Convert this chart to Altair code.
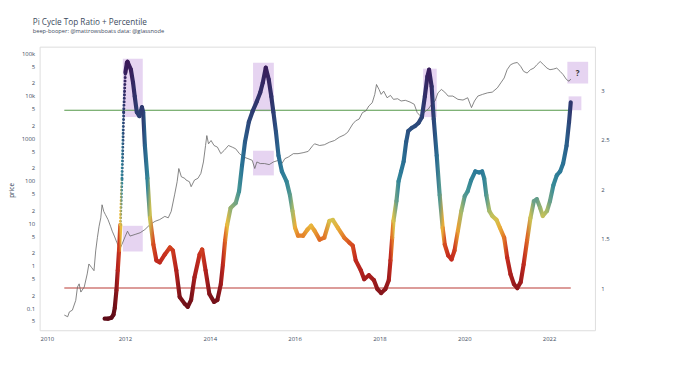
import altair as alt
import pandas as pd

# ---------------- data ----------------
ratio_year = [2011.52, 2011.60, 2011.68, 2011.73, 2011.76, 2011.80, 2011.83, 2011.86, 2011.89, 2011.93,
              2011.97, 2012.01, 2012.045, 2012.06, 2012.14, 2012.19, 2012.23, 2012.28, 2012.34, 2012.40,
              2012.43, 2012.47, 2012.53, 2012.59, 2012.67, 2012.74, 2012.82, 2012.94, 2013.06, 2013.13,
              2013.21, 2013.29, 2013.41, 2013.48, 2013.56, 2013.64, 2013.76, 2013.82, 2013.90, 2013.99,
              2014.10, 2014.18, 2014.26, 2014.31, 2014.36, 2014.41, 2014.49, 2014.61, 2014.69, 2014.76,
              2014.83, 2014.92, 2015.01, 2015.11, 2015.19, 2015.25, 2015.32, 2015.39, 2015.45, 2015.50,
              2015.56, 2015.62, 2015.70, 2015.81, 2015.89, 2015.95, 2016.01, 2016.08, 2016.20, 2016.30,
              2016.39, 2016.47, 2016.59, 2016.70, 2016.82, 2016.90, 2017.02, 2017.17, 2017.29, 2017.37,
              2017.44, 2017.56, 2017.64, 2017.75, 2017.87, 2017.95, 2018.04, 2018.14, 2018.22, 2018.26,
              2018.30, 2018.33, 2018.40, 2018.45, 2018.51, 2018.57, 2018.63, 2018.68, 2018.76, 2018.84,
              2018.92, 2019.00, 2019.07, 2019.13, 2019.17, 2019.23, 2019.28, 2019.35, 2019.42, 2019.49,
              2019.54, 2019.62, 2019.70, 2019.77, 2019.85, 2019.93, 2020.01, 2020.08, 2020.16, 2020.26,
              2020.35, 2020.42, 2020.47, 2020.52, 2020.59, 2020.66, 2020.76, 2020.84, 2020.94, 2021.01,
              2021.09, 2021.17, 2021.25, 2021.33, 2021.40, 2021.48, 2021.56, 2021.64, 2021.71, 2021.79,
              2021.85, 2021.95, 2022.02, 2022.10, 2022.18, 2022.26, 2022.33, 2022.41, 2022.47, 2022.51]
ratio_value = [0.69, 0.69, 0.70, 0.73, 0.80, 0.98, 1.18, 1.38, 1.64, 2.11,
               2.78, 3.18, 3.28, 3.29, 3.21, 3.08, 2.94, 2.78, 2.74, 2.83,
               2.78, 2.44, 2.11, 1.71, 1.44, 1.28, 1.26, 1.34, 1.41, 1.38,
               1.18, 0.91, 0.84, 0.81, 0.88, 1.11, 1.34, 1.39, 1.18, 0.94,
               0.86, 0.88, 1.04, 1.24, 1.48, 1.64, 1.81, 1.86, 1.98, 2.24,
               2.48, 2.68, 2.79, 2.89, 2.98, 3.08, 3.23, 3.11, 2.94, 2.78,
               2.58, 2.34, 2.18, 2.08, 1.94, 1.78, 1.61, 1.53, 1.53, 1.59,
               1.63, 1.58, 1.49, 1.51, 1.68, 1.69, 1.61, 1.51, 1.46, 1.43,
               1.28, 1.18, 1.09, 1.13, 1.08, 0.99, 0.95, 0.99, 1.08, 1.28,
               1.51, 1.68, 1.88, 2.08, 2.18, 2.28, 2.48, 2.59, 2.62, 2.64,
               2.67, 2.73, 2.94, 3.14, 3.21, 3.04, 2.71, 2.34, 1.94, 1.61,
               1.44, 1.33, 1.29, 1.38, 1.58, 1.78, 1.93, 1.98, 2.09, 2.18,
               2.17, 2.18, 2.11, 1.94, 1.78, 1.73, 1.69, 1.61, 1.51, 1.31,
               1.14, 1.04, 1.00, 1.06, 1.24, 1.48, 1.71, 1.88, 1.90, 1.81,
               1.73, 1.78, 1.88, 2.04, 2.14, 2.18, 2.26, 2.44, 2.68, 2.88]

price_year = [2010.57, 2010.65, 2010.69, 2010.76, 2010.84, 2010.88, 2010.92, 2010.96, 2011.04, 2011.11,
              2011.15, 2011.21, 2011.27, 2011.31, 2011.35, 2011.39, 2011.43, 2011.46, 2011.50, 2011.54,
              2011.60, 2011.66, 2011.70, 2011.75, 2011.81, 2011.88, 2011.93, 2012.01, 2012.06, 2012.12,
              2012.24, 2012.36, 2012.47, 2012.59, 2012.71, 2012.82, 2012.94, 2013.02, 2013.09, 2013.17,
              2013.23, 2013.27, 2013.33, 2013.41, 2013.44, 2013.52, 2013.56, 2013.64, 2013.72, 2013.79,
              2013.85, 2013.90, 2013.93, 2013.97, 2014.03, 2014.10, 2014.18, 2014.26, 2014.34, 2014.44,
              2014.53, 2014.61, 2014.70, 2014.80, 2014.90, 2015.00, 2015.06, 2015.11, 2015.19, 2015.29,
              2015.40, 2015.50, 2015.62, 2015.70, 2015.77, 2015.85, 2015.97, 2016.08, 2016.20, 2016.32,
              2016.43, 2016.47, 2016.59, 2016.70, 2016.82, 2016.94, 2017.05, 2017.17, 2017.25, 2017.37,
              2017.44, 2017.52, 2017.60, 2017.68, 2017.75, 2017.83, 2017.89, 2017.93, 2017.99, 2018.04,
              2018.10, 2018.18, 2018.26, 2018.33, 2018.43, 2018.51, 2018.61, 2018.72, 2018.82, 2018.89,
              2018.96, 2019.05, 2019.15, 2019.23, 2019.31, 2019.38, 2019.46, 2019.54, 2019.62, 2019.73,
              2019.85, 2019.97, 2020.08, 2020.17, 2020.24, 2020.32, 2020.43, 2020.55, 2020.66, 2020.78,
              2020.86, 2020.94, 2021.01, 2021.09, 2021.17, 2021.25, 2021.33, 2021.40, 2021.48, 2021.56,
              2021.64, 2021.71, 2021.79, 2021.87, 2021.95, 2022.02, 2022.10, 2022.18, 2022.26, 2022.33,
              2022.41, 2022.47, 2022.51]
price_usd = [0.069, 0.063, 0.082, 0.090, 0.153, 0.315, 0.375, 0.240, 0.315, 0.641,
             1.10, 0.918, 0.765, 2.23, 4.57, 8.5, 13.4, 27.2, 19.0, 15.9,
             12.2, 8.5, 6.5, 4.99, 3.50, 2.44, 3.20, 4.99, 6.5, 4.99,
             5.46, 5.98, 7.1, 9.3, 11.1, 12.2, 14.5, 13.4, 19.0, 46.5,
             94.8, 194, 124, 114, 104, 94.8, 72.5, 104, 114, 149,
             277, 676, 1156, 741, 885, 676, 618, 434, 518, 676,
             618, 566, 434, 361, 332, 303, 194, 277, 254, 254,
             240, 277, 303, 254, 332, 361, 434, 434, 457, 491,
             676, 741, 676, 703, 807, 885, 1055, 1199, 1380, 2163,
             2580, 2827, 4027, 4406, 5754, 6871, 10785, 18410, 14090, 10785,
             12850, 8980, 10210, 8240, 8510, 7530, 7820, 7130, 6310, 4027,
             3370, 4027, 4830, 6310, 7530, 11740, 14090, 12190, 9840, 9840,
             8240, 7940, 8980, 5260, 7530, 9840, 10785, 11740, 12190, 15350,
             20040, 26230, 41110, 53700, 58500, 60800, 49100, 37500, 34300, 41110,
             44800, 53700, 64100, 53700, 44800, 41110, 42460, 44800, 37500, 31480,
             24050, 21980, 24830]

level_values = [1.0, 2.8]

box_start = [2011.95, 2011.95, 2015.02, 2015.02, 2019.03, 2022.43, 2022.46]
box_end = [2012.42, 2012.42, 2015.51, 2015.51, 2019.35, 2022.92, 2022.76]
box_low = [2.73, 1.37, 2.79, 2.14, 2.73, 3.07, 2.80]
box_high = [3.32, 1.63, 3.28, 2.39, 3.22, 3.29, 2.94]

question_year = [2022.67]
question_ratio = [3.17]
question_text = ["?"]

year_ticks = [2010, 2012, 2014, 2016, 2018, 2020, 2022]
ratio_ticks = [1, 1.5, 2, 2.5, 3]
price_ticks = [0.05, 0.1, 0.2, 0.5, 1, 2, 5, 10, 20, 50, 100, 200, 500, 1000, 2000, 5000,
               10000, 20000, 50000, 100000]
price_tick_labels = ["5", "0.1", "2", "5", "1", "2", "5", "10", "2", "5", "100", "2", "5", "1000", "2", "5",
                     "10k", "2", "5", "100k"]

# ---------------- styling ----------------
FONT = "Open Sans"
TXT = "#3d4b5e"
level_colors = ["#b93a34", "#559848"]
color_stops = [0.7, 0.9, 1.05, 1.2, 1.35, 1.45, 1.55, 1.65, 1.75, 1.88, 2.0, 2.2, 2.5, 2.8, 3.3]
color_range = ["#5e0b17", "#7a1219", "#9a1a1c", "#b8241e", "#c8301e", "#d85020", "#e8902c", "#e8c040",
               "#b8c060", "#6aa088", "#3a9098", "#2a7898", "#2a5a88", "#2d3a70", "#3a1858"]


def hex_rgb(h):
    return [int(h[i:i + 2], 16) for i in (1, 3, 5)]


def color_at(v):
    if v <= color_stops[0]:
        return color_range[0]
    if v >= color_stops[-1]:
        return color_range[-1]
    for i in range(len(color_stops) - 1):
        a, b = color_stops[i], color_stops[i + 1]
        if a <= v <= b:
            f = (v - a) / (b - a)
            ca, cb = hex_rgb(color_range[i]), hex_rgb(color_range[i + 1])
            c = [round(ca[k] + (cb[k] - ca[k]) * f) for k in range(3)]
            return "#%02x%02x%02x" % tuple(c)
    return color_range[-1]


seg = pd.DataFrame({
    "t0": ratio_year[:-1], "t1": ratio_year[1:],
    "r0": ratio_value[:-1], "r1": ratio_value[1:],
})
seg["steep"] = (seg["r1"] - seg["r0"]) / (seg["t1"] - seg["t0"]) > 9.5
strokes = []
for r0, r1 in zip(seg["r0"], seg["r1"]):
    if abs(r1 - r0) < 1e-9:
        strokes.append(color_at(r0))
    else:
        up = r1 > r0
        strokes.append({"gradient": "linear", "x1": 0, "y1": 1 if up else 0, "x2": 1, "y2": 0 if up else 1,
                        "stops": [{"offset": 0, "color": color_at(r0)}, {"offset": 1, "color": color_at(r1)}]})
seg["stroke"] = strokes

price_df = pd.DataFrame({"year": price_year, "price": price_usd})
box_df = pd.DataFrame({"x0": box_start, "x1": box_end, "y0": box_low, "y1": box_high})
q_df = pd.DataFrame({"year": question_year, "ratio": question_ratio, "label": question_text})

x_scale = alt.Scale(domain=[2009.988, 2023.08], nice=False, zero=False)
x_axis = alt.Axis(values=year_ticks, format="d", title=None, grid=False, domain=False, ticks=False,
                  labelFontSize=6, labelColor=TXT, labelPadding=5, labelFont=FONT)
ratio_scale = alt.Scale(domain=[0.573, 3.443], nice=False, zero=False)
price_scale = alt.Scale(type="log", domain=[0.0303, 143200], nice=False)

label_expr = ""
for v, l in zip(price_ticks, price_tick_labels):
    label_expr += f"datum.value == {v} ? '{l}' : "
label_expr += "''"

price_axis = alt.Axis(orient="left", values=price_ticks, labelExpr=label_expr, title="price",
                      titleX=-28, titleY=145, titleAngle=-90, titleBaseline="middle", titleAlign="center",
                      titleFontSize=6.5, titleFontWeight="normal", titleColor=TXT, titleFont=FONT,
                      grid=False, domain=False, ticks=False, labelFontSize=6, labelColor=TXT,
                      labelPadding=5, labelFont=FONT)
ratio_axis = alt.Axis(orient="right", values=ratio_ticks, format="~g", title=None, grid=False,
                      domain=False, ticks=False, labelFontSize=6, labelColor=TXT, labelPadding=6,
                      labelFont=FONT)

stroke_enc = alt.Color("stroke:N", scale=None)

boxes = alt.Chart(box_df).mark_rect(color="#e2cdee", opacity=0.85).encode(
    x=alt.X("x0:Q", scale=x_scale, axis=x_axis), x2="x1:Q",
    y=alt.Y("y0:Q", scale=ratio_scale, axis=None), y2="y1:Q")

levels = []
for v, c in zip(level_values, level_colors):
    ldf = pd.DataFrame({"start": [min(price_year)], "end": [max(price_year)], "level": [v]})
    levels.append(alt.Chart(ldf).mark_rule(color=c, strokeWidth=1.1).encode(
        x=alt.X("start:Q", scale=x_scale, axis=x_axis), x2="end:Q",
        y=alt.Y("level:Q", scale=ratio_scale, axis=None)))

price = alt.Chart(price_df).mark_line(color="#666666", strokeWidth=0.8).encode(
    x=alt.X("year:Q", scale=x_scale, axis=x_axis),
    y=alt.Y("price:Q", scale=price_scale, axis=price_axis))

solid = alt.Chart(seg).transform_filter("!datum.steep").mark_rule(strokeWidth=4.2, strokeCap="round").encode(
    x=alt.X("t0:Q", scale=x_scale, axis=x_axis), x2="t1:Q",
    y=alt.Y("r0:Q", scale=ratio_scale, axis=ratio_axis), y2="r1:Q",
    color=stroke_enc)

dotted = alt.Chart(seg).transform_filter("datum.steep").mark_rule(
    strokeWidth=3.0, strokeCap="round", strokeDash=[0.1, 3.4]).encode(
    x=alt.X("t0:Q", scale=x_scale, axis=x_axis), x2="t1:Q",
    y=alt.Y("r0:Q", scale=ratio_scale, axis=None), y2="r1:Q",
    color=stroke_enc)

qmark = alt.Chart(q_df).mark_text(fontWeight="bold", fontSize=8, color="#333333", font=FONT).encode(
    x=alt.X("year:Q", scale=x_scale, axis=x_axis),
    y=alt.Y("ratio:Q", scale=ratio_scale, axis=None),
    text="label:N")

chart = alt.layer(boxes, *levels, price, solid, dotted, qmark).resolve_scale(
    y="independent"
).properties(
    width=562, height=287,
    padding={"left": 32, "top": 37, "right": 78, "bottom": 30},
    autosize=alt.AutoSizeParams(type="none"),
    title=alt.TitleParams(
        text="Pi Cycle Top Ratio + Percentile",
        subtitle="beep-booper: @mattrowsboats data: @glassnode",
        anchor="start", frame="group", dx=-7, offset=13,
        fontSize=8.3, fontWeight="normal", color=TXT, font=FONT,
        subtitleFontSize=5.8, subtitleColor=TXT, subtitleFont=FONT, subtitlePadding=2),
).configure_view(strokeWidth=0).configure(background="white", font=FONT)

chart.save("out.html", embed_options={"renderer": "svg", "actions": False})
